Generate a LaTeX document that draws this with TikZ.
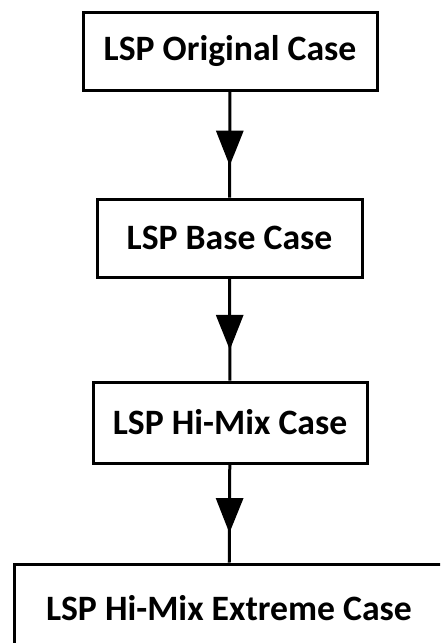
\documentclass[tikz,border=0pt]{standalone}
\usepackage{fontspec}
\setmainfont{Carlito}
\usetikzlibrary{arrows.meta}
\usetikzlibrary{decorations.markings}

\begin{document}
\begin{tikzpicture}[x=1pt,y=-1pt,
    casebox/.style={draw,line width=3pt,fill=white,font=\fontsize{35.7}{38}\selectfont\bfseries,inner sep=0pt},
    flow/.style={line width=3pt,
      decoration={markings,mark=at position 0.7 with {\arrow{Triangle[length=35pt,width=27pt]}}},
      postaction={decorate}}]
  \useasboundingbox (0,0) rectangle (440,643);
  \clip (0,0) rectangle (440,643);

  \node[casebox,minimum width=294pt,minimum height=78pt] (orig) at (230,51) {LSP Original Case};
  \node[casebox,minimum width=265pt,minimum height=78pt] (base) at (229.5,238) {LSP Base Case};
  \node[casebox,minimum width=274pt,minimum height=81pt] (himix) at (230,422.5) {LSP Hi-Mix Case};
  \node[casebox,minimum width=430pt,minimum height=88pt] (extreme) at (229,608) {LSP Hi-Mix Extreme Case};

  % arrows between the cases
  \draw[flow] (orig) -- (base);
  \draw[flow] (base) -- (himix);
  \draw[flow] (himix) -- (extreme);
\end{tikzpicture}
\end{document}
